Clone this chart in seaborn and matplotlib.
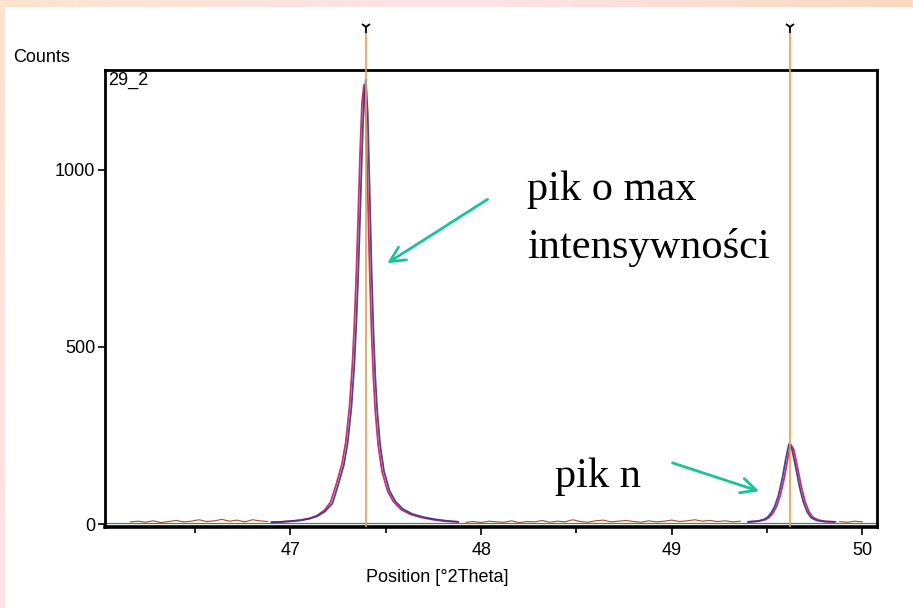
import numpy as np
import pandas as pd
import matplotlib
matplotlib.use("Agg")
import matplotlib.pyplot as plt
import seaborn as sns

# ---- measured profile (counts vs 2theta) ----
obs_main_x = [46.90, 46.95, 47.00, 47.05, 47.10, 47.14, 47.18, 47.22, 47.25, 47.28,
              47.30, 47.32, 47.335, 47.345, 47.355, 47.365, 47.375, 47.385, 47.395,
              47.405, 47.415, 47.425, 47.435, 47.445, 47.455, 47.47, 47.49, 47.52,
              47.55, 47.59, 47.64, 47.70, 47.76, 47.82, 47.88]
obs_main_y = [5, 6, 8, 10, 15, 22, 35, 58, 110, 167,
              230, 332, 452, 562, 701, 869, 1048, 1196, 1255,
              1160, 946, 723, 544, 413, 319, 224, 150, 93,
              64, 42, 28, 19, 13, 9, 6]

obs_side_x = [49.40, 49.45, 49.48, 49.50, 49.52, 49.54, 49.56, 49.58, 49.60, 49.615,
              49.63, 49.65, 49.67, 49.69, 49.71, 49.73, 49.76, 49.80, 49.85]
obs_side_y = [6, 8, 12, 18, 30, 50, 82, 130, 190, 226,
              212, 160, 105, 62, 34, 18, 10, 7, 6]

# ---- calculated profile ----
calc_main_x = [46.90, 46.95, 47.00, 47.05, 47.10, 47.14, 47.18, 47.21, 47.24, 47.27,
               47.29, 47.31, 47.325, 47.335, 47.345, 47.355, 47.365, 47.375, 47.385,
               47.395, 47.405, 47.415, 47.425, 47.435, 47.445, 47.46, 47.48, 47.51,
               47.54, 47.58, 47.63, 47.69, 47.75, 47.81, 47.88]
calc_main_y = [5, 6, 8, 11, 16, 24, 40, 62, 112, 170,
               232, 335, 455, 565, 705, 872, 1050, 1190, 1240,
               1150, 940, 718, 540, 410, 316, 222, 148, 92,
               63, 41, 27, 18, 12, 8, 6]

calc_side_x = [49.40, 49.45, 49.49, 49.51, 49.53, 49.55, 49.57, 49.59, 49.61, 49.625,
               49.64, 49.66, 49.68, 49.70, 49.72, 49.74, 49.77, 49.81, 49.86]
calc_side_y = [6, 8, 12, 18, 30, 50, 82, 130, 190, 224,
               210, 158, 104, 62, 34, 19, 11, 7, 6]

# ---- residual background scatter between the reflections (three stretches) ----
bg_a_x = [46.16, 46.20, 46.24, 46.28, 46.32, 46.36, 46.40, 46.44, 46.48, 46.52,
          46.56, 46.60, 46.64, 46.68, 46.72, 46.76, 46.80, 46.84, 46.88]
bg_a_y = [6, 8, 5, 9, 4, 7, 10, 6, 8, 12,
          7, 9, 13, 8, 11, 6, 12, 9, 7]
bg_b_x = [47.92, 47.96, 48.00, 48.04, 48.08, 48.12, 48.16, 48.20, 48.24, 48.28,
          48.32, 48.36, 48.40, 48.44, 48.48, 48.52, 48.56, 48.60, 48.64, 48.68,
          48.72, 48.76, 48.80, 48.84, 48.88, 48.92, 48.96, 49.00, 49.04, 49.08,
          49.12, 49.16, 49.20, 49.24, 49.28, 49.32, 49.36]
bg_b_y = [5, 7, 4, 8, 6, 5, 9, 4, 7, 6,
          10, 5, 8, 6, 12, 7, 5, 9, 11, 6,
          8, 10, 7, 5, 9, 6, 8, 11, 7, 9,
          12, 8, 10, 7, 9, 6, 8]
bg_c_x = [49.88, 49.92, 49.96, 50.00]
bg_c_y = [7, 5, 8, 6]

background_level = 4
ref_positions = [47.396, 49.62]

x_ticks = [47, 48, 49, 50]
x_minor = [46.5, 47.5, 48.5, 49.5]
y_ticks = [0, 500, 1000]

sns.set_theme(style="white")
plt.rcParams["font.family"] = ["Liberation Sans", "DejaVu Sans"]
plt.rcParams["text.color"] = "black"
plt.rcParams["axes.labelcolor"] = "black"
plt.rcParams["xtick.color"] = "black"
plt.rcParams["ytick.color"] = "black"

LABEL_SIZE = 13

fig = plt.figure(figsize=(9.13, 6.08), dpi=100)
fig.patch.set_facecolor("white")

# slide border gradients (top and left strips)
bg_ax = fig.add_axes([0, 0, 1, 1], zorder=-10)
bg_ax.set_axis_off()
grad = np.ones((608, 913, 3))
top_cols = np.array([[251, 228, 206], [252, 228, 234], [250, 217, 190]]) / 255.0
t = np.linspace(0, 1, 913)
top_row = np.where(t[:, None] < 0.5,
                   top_cols[0] + (top_cols[1] - top_cols[0]) * (t[:, None] / 0.5),
                   top_cols[1] + (top_cols[2] - top_cols[1]) * ((t[:, None] - 0.5) / 0.5))
grad[:7, :, :] = top_row[None, :, :]
s = np.linspace(0, 1, 608)
left_col = top_cols[0] + (np.array([252, 226, 232]) / 255.0 - top_cols[0]) * s[:, None]
grad[7:, :5, :] = left_col[7:, None, :]
bg_ax.imshow(grad, aspect="auto", extent=[0, 1, 0, 1])

ax = fig.add_axes([0.115, 0.1332, 0.8455, 0.7517])
ax.set_facecolor("white")

calc_col = "#d2306a"
obs_col = "#34348f"

ax.axhline(background_level, color="#3f8f4a", lw=0.9, zorder=2)
for xs, ys in [(bg_a_x, bg_a_y), (bg_b_x, bg_b_y), (bg_c_x, bg_c_y)]:
    sns.lineplot(data=pd.DataFrame({"x": xs, "y": ys}), x="x", y="y", ax=ax,
                 color="#a0522d", lw=0.8, estimator=None, zorder=3)

for xs, ys in [(calc_main_x, calc_main_y), (calc_side_x, calc_side_y)]:
    sns.lineplot(data=pd.DataFrame({"x": xs, "y": ys}), x="x", y="y", ax=ax,
                 color=calc_col, lw=1.3, estimator=None, zorder=3)
for xs, ys in [(obs_main_x, obs_main_y), (obs_side_x, obs_side_y)]:
    sns.lineplot(data=pd.DataFrame({"x": xs, "y": ys}), x="x", y="y", ax=ax,
                 color=obs_col, lw=1.3, estimator=None, zorder=4, alpha=0.9)

# reference line positions, extending above the frame
ax.vlines(ref_positions, 0, 1.082, transform=ax.get_xaxis_transform(),
          color="#e0a050", lw=1.2, clip_on=False, zorder=5)
ax.plot(ref_positions, [1.095] * len(ref_positions), transform=ax.get_xaxis_transform(),
        marker="1", ms=8, mew=1.3, color="black", ls="none", clip_on=False, zorder=6)

ax.set_xlim(46.027, 50.076)
ax.set_ylim(-8.5, 1282)
ax.set_xticks(x_ticks)
ax.set_xticks(x_minor, minor=True)
ax.set_yticks(y_ticks)
ax.tick_params(axis="x", which="major", direction="out", length=6, width=1.2,
               color="black", labelcolor="black", labelsize=LABEL_SIZE, pad=5,
               bottom=True)
ax.tick_params(axis="x", which="minor", direction="out", length=4, width=1.2,
               color="black", bottom=True)
ax.tick_params(axis="y", which="major", direction="out", length=5, width=1.2,
               color="black", labelcolor="black", labelsize=LABEL_SIZE, pad=2,
               left=True)
for sp in ax.spines.values():
    sp.set_visible(True)
    sp.set_color("black")
    sp.set_linewidth(2)
ax.spines["bottom"].set_linewidth(2.6)
ax.set_xlabel("")
ax.set_ylabel("")

fig.text(437 / 913, 1 - 578 / 608, "Position [°2Theta]", ha="center", va="center",
         fontsize=LABEL_SIZE, color="black")
ax.text(0.004, 0.995, "29_2", transform=ax.transAxes, ha="left", va="top",
        fontsize=LABEL_SIZE, color="black")
fig.text(13 / 913, 1 - 57 / 608, "Counts", ha="left", va="center",
         fontsize=LABEL_SIZE, color="black")

serif = ["Liberation Serif", "DejaVu Serif"]
ax.text(48.24, 915, "pik o max", family=serif, fontsize=30.5, ha="left",
        va="baseline", color="black")
ax.text(48.24, 751, "intensywności", family=serif, fontsize=30.5, ha="left",
        va="baseline", color="black")
ax.text(48.386, 105, "pik n", family=serif, fontsize=30.5, ha="left",
        va="baseline", color="black")

arrow_col = "#19c49a"
ax.annotate("", xy=(47.495, 732), xytext=(48.046, 921),
            arrowprops=dict(arrowstyle="->,head_length=0.9,head_width=0.45",
                            color=arrow_col, lw=2))
ax.annotate("", xy=(49.472, 90), xytext=(48.99, 175),
            arrowprops=dict(arrowstyle="->,head_length=0.9,head_width=0.45",
                            color=arrow_col, lw=2))

fig.savefig("out.png", dpi=100)
